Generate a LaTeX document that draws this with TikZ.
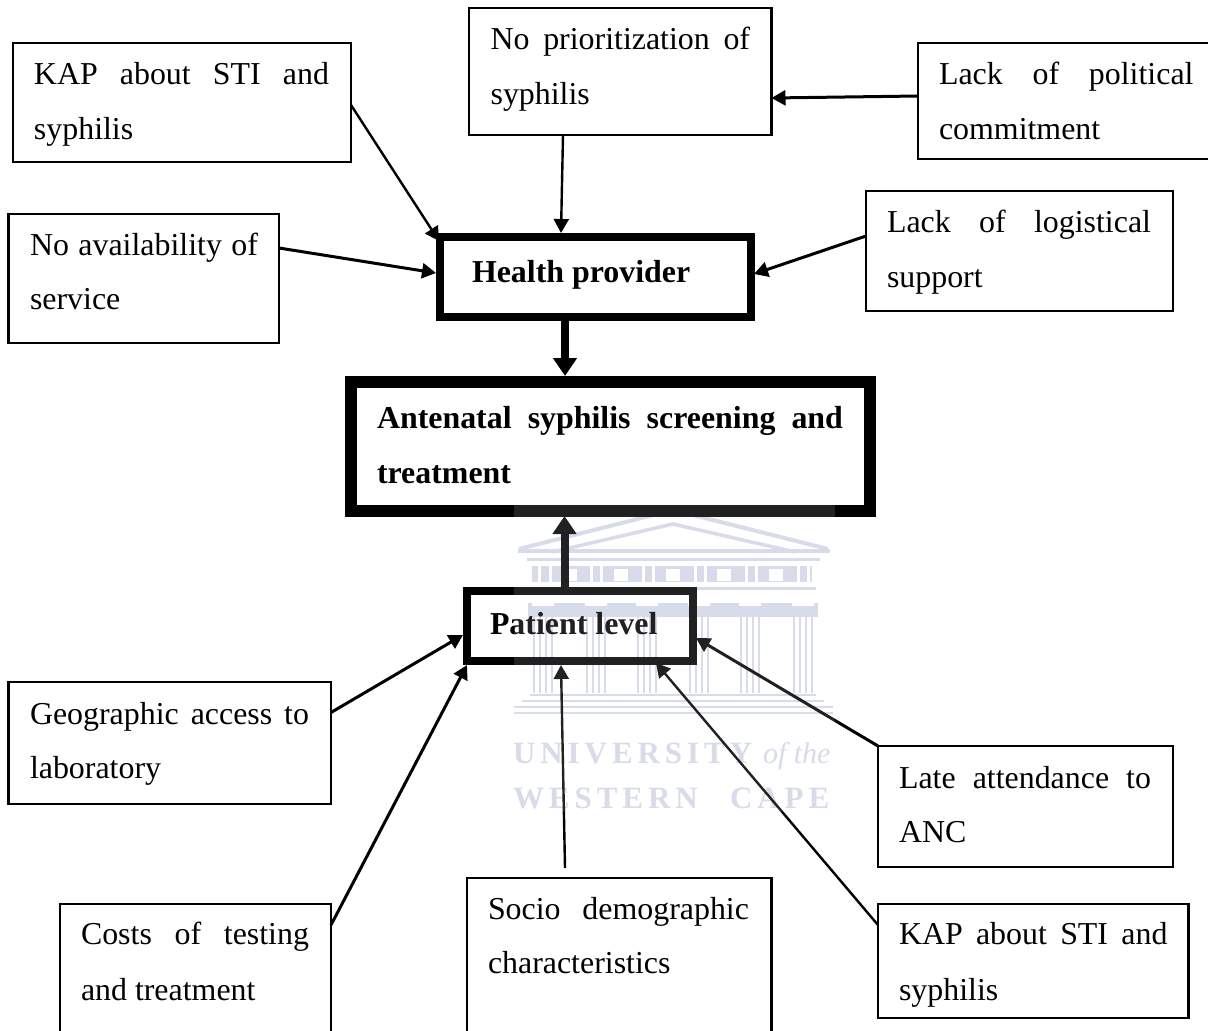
\documentclass[tikz,border=0pt]{standalone}
\usepackage{fontspec}
\setmainfont{Liberation Serif}
\newfontfamily\wmfont{Liberation Serif}[LetterSpace=16]
\usetikzlibrary{arrows.meta}
\definecolor{wm}{HTML}{D3D7E8}
\newcommand\txtsize{\fontsize{31.9}{38}\selectfont}
\newcommand\lineat[4]{\rlap{\hspace*{#1pt}\raisebox{\dimexpr-#2pt-1pt\relax}[0pt][0pt]{\ifdim #3pt>0pt\makebox[#3pt][s]{#4}\else #4\fi}}}
\newcommand\bxc[3]{\vbox to #2pt{\hbox to #1pt{#3\hss}\vss}}
\tikzset{
  tbox/.style={draw=black,line width=2.2pt,inner sep=0pt,outer sep=0pt,anchor=north west,font=\txtsize},
  hbox/.style={tbox,line width=8pt,font=\txtsize\bfseries},
  abox/.style={tbox,line width=12pt,font=\txtsize\bfseries},
  conn/.style={line width=2.4pt,-{Triangle[length=14pt,width=15pt]},shorten <=0pt},
  bigconn/.style={line width=8pt,-{Triangle[length=18pt,width=23pt]}},
  wmtext/.style={inner sep=0pt,outer sep=0pt,anchor=base west,text=wm},
  wmline/.style={draw=wm,line width=2.4pt},
}
\begin{document}
\begin{tikzpicture}[x=1pt,y=-1pt]
\useasboundingbox (0,0) rectangle (1208,1031);
\clip (0,0) rectangle (1208,1031);
\fill[white] (0,0) rectangle (1208,1031);
% watermark
\draw[wm,line width=4pt,line join=miter] (519,549)--(673,510)--(828,549);
\draw[wm,line width=3.5pt] (552,552)--(673,524)--(795,552);
\draw[wm,line width=3.5pt] (518,551)--(830,551);
\draw[wm,line width=3pt] (527,559)--(820,559);
\fill[wm] (532,566) rectangle (812,582);
\foreach \fx in {563,614,666,717,769}{\fill[white] (\fx,569) rectangle +(14,12);}
\foreach \gx in {538,549,590,600,642,652,694,704,745,755,797,807}{\fill[white] (\gx,566) rectangle +(3,16);}
\draw[wm,line width=3pt] (530,588)--(816,588);
\fill[wm] (528,603) rectangle (818,617);
\foreach \cx in {543,596,647,699,750,803}{
  \fill[white] (\cx-11,601) rectangle (\cx+11,606);
  \foreach \dx in {-9,-3,3,9}{\draw[wmline] (\cx+\dx,608)--(\cx+\dx,693);}
}
\draw[wm,line width=2.5pt] (530,695)--(816,695);
\draw[wm,line width=2.5pt] (522,701)--(824,701);
\draw[wm,line width=2.5pt] (514,707)--(833,707);
\draw[wm,line width=2.5pt] (514,713)--(833,713);
\node[wmtext,font=\fontsize{31}{36}\selectfont\wmfont\bfseries] (wmu) at (513,763) {UNIVERSITY};
\node[wmtext,font=\fontsize{30}{34}\selectfont\itshape] (wmo) at (763,763) {of the};
\node[wmtext,font=\fontsize{31}{36}\selectfont\wmfont\bfseries] (wmw) at (513,808) {WESTERN};
\node[wmtext,font=\fontsize{31}{36}\selectfont\wmfont\bfseries] (wmc) at (730,808) {CAPE};
% boxes
\node[tbox] (kapa) at (12.6,43) {\bxc{338.4}{119}{\lineat{21.4}{40}{295}{KAP about STI and}\lineat{21.4}{95}{0}{syphilis}}};
\node[tbox] (noprior) at (469,8) {\bxc{302.5}{127}{\lineat{21.6}{40}{259.5}{No prioritization of}\lineat{21.6}{95}{0}{syphilis}}};
\node[tbox] (lackpol) at (918,43) {\bxc{300}{116}{\lineat{21}{40}{254.5}{Lack of political}\lineat{21}{95}{0}{commitment}}};
\node[tbox] (noavail) at (8.4,214) {\bxc{270.6}{129}{\lineat{21.6}{40}{228}{No availability of}\lineat{21.6}{94}{0}{service}}};
\node[tbox] (logist) at (866,191) {\bxc{307}{120}{\lineat{21}{40}{264}{Lack of logistical}\lineat{21}{95}{0}{support}}};
\node[hbox] (hp) at (440,237) {\bxc{310.5}{80}{\lineat{32}{44}{0}{Health provider}}};
\node[abox] (ant) at (350.5,381.5) {\bxc{519}{129.5}{\lineat{26.5}{45.5}{466}{Antenatal syphilis screening and}\lineat{26.5}{100.5}{0}{treatment}}};
\node[hbox] (pat) at (467,590.5) {\bxc{226}{70.5}{\lineat{23}{42.5}{0}{Patient level}}};
\node[tbox] (geo) at (8.4,682) {\bxc{322.6}{122}{\lineat{21.6}{41}{279}{Geographic access to}\lineat{21.6}{95}{0}{laboratory}}};
\node[tbox] (costs) at (60,904) {\bxc{271}{140}{\lineat{21}{39}{228}{Costs of testing}\lineat{21}{95}{0}{and treatment}}};
\node[tbox] (socio) at (467,878) {\bxc{304.5}{170}{\lineat{21}{40}{261}{Socio demographic}\lineat{21}{94}{0}{characteristics}}};
\node[tbox] (late) at (878,746) {\bxc{295}{121}{\lineat{21}{41}{252}{Late attendance to}\lineat{21}{95}{0}{ANC}}};
\node[tbox] (kapb) at (878,904) {\bxc{310.5}{114}{\lineat{21}{39}{268.5}{KAP about STI and}\lineat{21}{95}{0}{syphilis}}};
% connectors
\draw[conn] ([shift={(0,62)}]kapa.north east) -- ([shift={(-1,4)}]hp.north west);
\draw[conn] ([shift={(94,0)}]noprior.south west) -- ([shift={(121,-4)}]hp.north west);
\draw[conn,line width=3pt] ([shift={(0,53)}]lackpol.north west) -- ([shift={(0,90)}]noprior.north east);
\draw[conn,line width=3pt] ([shift={(0,34)}]noavail.north east) -- ([shift={(-4,36)}]hp.north west);
\draw[conn,line width=3pt] ([shift={(0,45)}]logist.north west) -- ([shift={(3.5,37)}]hp.north east);
\draw[bigconn] ([shift={(125,4)}]hp.south west) -- ([shift={(214.5,-5.5)}]ant.north west);
\draw[bigconn] ([shift={(97.5,-3.5)}]pat.north west) -- ([shift={(214,5)}]ant.south west);
\draw[conn,line width=3pt] ([shift={(0,30.5)}]geo.north east) -- ([shift={(-4,44.5)}]pat.north west);
\draw[conn,line width=3pt] ([shift={(0,21)}]costs.north east) -- ([shift={(0,4)}]pat.south west);
\draw[conn] ([shift={(98,-10)}]socio.north west) -- ([shift={(94,4)}]pat.south west);
\draw[conn,line width=3pt] (late.north west) -- ([shift={(3,47.5)}]pat.north east);
\draw[conn] ([shift={(0,21)}]kapb.north west) -- ([shift={(189,2)}]pat.south west);
% watermark lightening veil
\fill[white,opacity=0.13] (514,505) rectangle (835,812);
\end{tikzpicture}
\end{document}
